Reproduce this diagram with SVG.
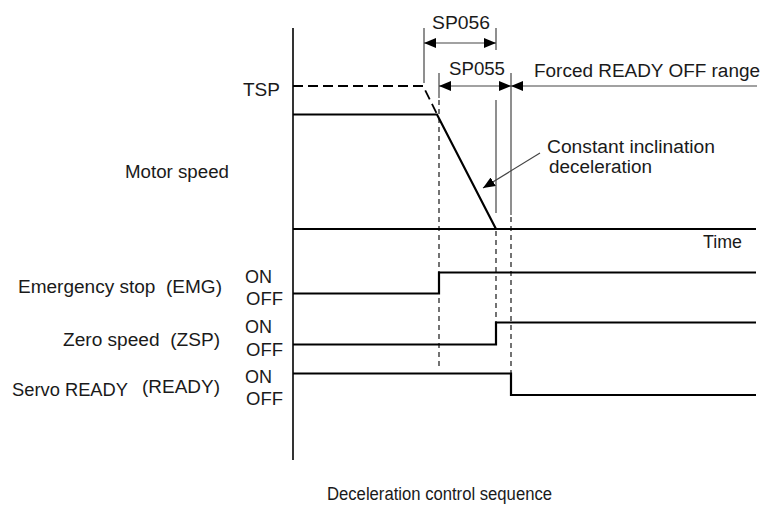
<svg xmlns="http://www.w3.org/2000/svg" width="763" height="505" viewBox="0 0 763 505">
<defs>
<style>
text{font-family:"Liberation Sans",Arial,Helvetica,sans-serif;font-size:18px;fill:#1a1a1a}
.thick{stroke:#000;stroke-width:2.2;fill:none}
.axis{stroke:#000;stroke-width:1.6;fill:none}
.thin{stroke:#333;stroke-width:1.1;fill:none}
.dash{stroke:#000;stroke-width:1.1;fill:none;stroke-dasharray:5 4}
.tspdash{stroke:#000;stroke-width:1.8;fill:none;stroke-dasharray:10 5}
.dim{stroke:#444;stroke-width:1.2;fill:none}
</style>
<marker id="ah" viewBox="0 0 12 10" refX="12" refY="5" markerWidth="12" markerHeight="10" markerUnits="userSpaceOnUse" orient="auto-start-reverse">
<path d="M0,0 L12,5 L0,10 z" fill="#000"/>
</marker>
</defs>
<rect width="763" height="505" fill="#fff"/>

<g id="axes">
<line class="axis" x1="293" y1="28" x2="293" y2="460"/>
<line class="thick" x1="496" y1="229" x2="756" y2="229"/>
<line class="thick" x1="293" y1="229" x2="496" y2="229"/>
<text x="703" y="248" textLength="39" lengthAdjust="spacingAndGlyphs">Time</text>
</g>

<g id="motor-speed">
<text x="125" y="178" textLength="104" lengthAdjust="spacingAndGlyphs">Motor speed</text>
<text x="243" y="96" textLength="37" lengthAdjust="spacingAndGlyphs">TSP</text>
<polyline class="tspdash" points="293,86 423,86 437,114"/>
<polyline class="thick" points="293,114.5 437,114.5 496,229"/>
</g>

<g id="emg">
<text x="18" y="293" textLength="204" lengthAdjust="spacingAndGlyphs" xml:space="preserve">Emergency stop  (EMG)</text>
<text x="245" y="283" textLength="27" lengthAdjust="spacingAndGlyphs">ON</text>
<text x="246" y="305" textLength="37" lengthAdjust="spacingAndGlyphs">OFF</text>
<polyline class="thick" points="293,293.5 439,293.5 439,272.5 756,272.5"/>
</g>

<g id="zsp">
<text x="63" y="345.5" textLength="157" lengthAdjust="spacingAndGlyphs" xml:space="preserve">Zero speed  (ZSP)</text>
<text x="245" y="333" textLength="27" lengthAdjust="spacingAndGlyphs">ON</text>
<text x="246" y="355.5" textLength="37" lengthAdjust="spacingAndGlyphs">OFF</text>
<polyline class="thick" points="293,344.5 496,344.5 496,322.5 756,322.5"/>
</g>

<g id="ready">
<text x="12" y="396" textLength="116" lengthAdjust="spacingAndGlyphs">Servo READY</text>
<text x="142" y="392.5" textLength="78" lengthAdjust="spacingAndGlyphs">(READY)</text>
<text x="245" y="382.5" textLength="27" lengthAdjust="spacingAndGlyphs">ON</text>
<text x="246" y="405" textLength="37" lengthAdjust="spacingAndGlyphs">OFF</text>
<polyline class="thick" points="293,373.5 511,373.5 511,395 756,395"/>
</g>

<g id="annotation">
<text x="547" y="153" textLength="168" lengthAdjust="spacingAndGlyphs">Constant inclination</text>
<text x="549" y="173" textLength="103" lengthAdjust="spacingAndGlyphs">deceleration</text>
<text x="432" y="29" textLength="58" lengthAdjust="spacingAndGlyphs">SP056</text>
<text x="449" y="75" textLength="56" lengthAdjust="spacingAndGlyphs">SP055</text>
<text x="534" y="77" textLength="226" lengthAdjust="spacingAndGlyphs">Forced READY OFF range</text>
</g>

<g id="connectors">
<line class="thin" x1="424" y1="28" x2="424" y2="83"/>
<line class="thin" x1="496" y1="28" x2="496" y2="50"/>
<line class="thin" x1="496" y1="100" x2="496" y2="213"/>
<line class="thin" x1="439" y1="73" x2="439" y2="98"/>
<line class="thin" x1="511" y1="73" x2="511" y2="215"/>
<line class="dash" x1="439" y1="100" x2="439" y2="367"/>
<line class="dash" x1="496" y1="231" x2="496" y2="322"/>
<line class="dash" x1="511" y1="217" x2="511" y2="395"/>
<line class="dim" x1="424" y1="43" x2="496" y2="43" marker-start="url(#ah)" marker-end="url(#ah)"/>
<line class="dim" x1="439" y1="86" x2="511" y2="86" marker-start="url(#ah)" marker-end="url(#ah)"/>
<line class="dim" x1="757" y1="86" x2="511" y2="86" marker-end="url(#ah)"/>
<line class="dim" x1="540" y1="153" x2="483" y2="188" marker-end="url(#ah)"/>
</g>

<text x="327" y="500" textLength="225" lengthAdjust="spacingAndGlyphs">Deceleration control sequence</text>
</svg>
